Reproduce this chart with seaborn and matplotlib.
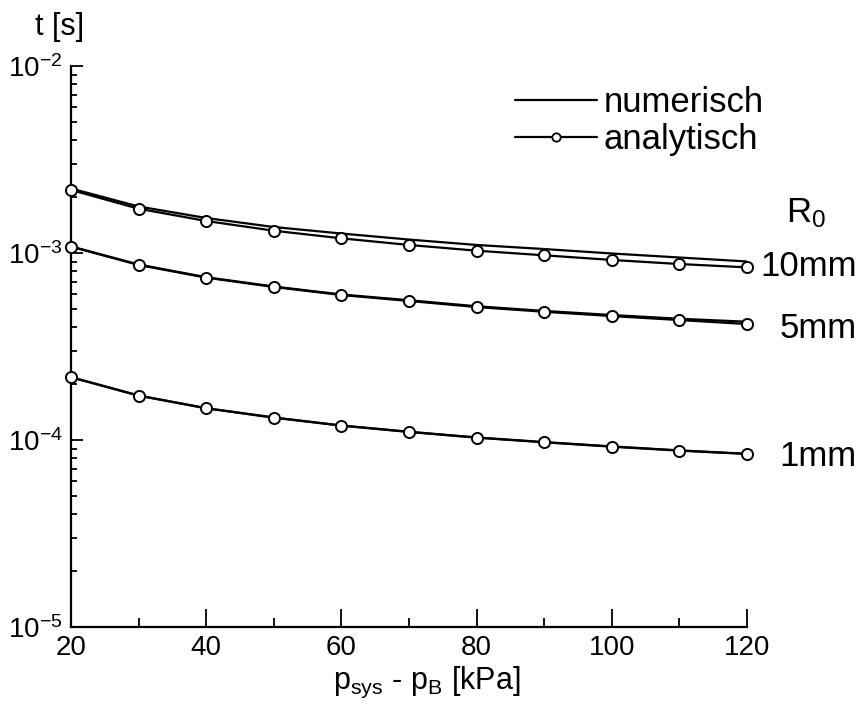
import numpy as np
import pandas as pd
import matplotlib
matplotlib.use("Agg")
import matplotlib.pyplot as plt
import matplotlib.ticker as mticker
from matplotlib.lines import Line2D
import seaborn as sns

# ---- data ----
dp_kpa = [20, 30, 40, 50, 60, 70, 80, 90, 100, 110, 120]

num_10mm = [2.213e-3, 1.773e-3, 1.539e-3, 1.377e-3, 1.271e-3, 1.180e-3, 1.104e-3, 1.050e-3, 0.994e-3, 0.946e-3, 0.901e-3]
ana_10mm = [2.173e-3, 1.725e-3, 1.483e-3, 1.316e-3, 1.198e-3, 1.104e-3, 1.029e-3, 0.972e-3, 0.918e-3, 0.873e-3, 0.838e-3]

num_5mm = [1.085e-3, 0.868e-3, 0.742e-3, 0.662e-3, 0.600e-3, 0.559e-3, 0.519e-3, 0.490e-3, 0.466e-3, 0.445e-3, 0.429e-3]
ana_5mm = [1.081e-3, 0.863e-3, 0.738e-3, 0.658e-3, 0.596e-3, 0.554e-3, 0.514e-3, 0.485e-3, 0.460e-3, 0.438e-3, 0.417e-3]

num_1mm = [0.2170e-3, 0.1730e-3, 0.1480e-3, 0.1320e-3, 0.1196e-3, 0.1107e-3, 0.1032e-3, 0.0975e-3, 0.0924e-3, 0.0880e-3, 0.0844e-3]
ana_1mm = [0.2164e-3, 0.1726e-3, 0.1477e-3, 0.1316e-3, 0.1193e-3, 0.1104e-3, 0.1029e-3, 0.0972e-3, 0.0921e-3, 0.0877e-3, 0.0842e-3]

radius_labels = ["10mm", "5mm", "1mm"]
legend_labels = ["numerisch", "analytisch"]
x_ticks = [20, 40, 60, 80, 100, 120]

# ---- style ----
sns.set_theme(style="ticks")
plt.rcParams["font.family"] = ["Liberation Sans", "DejaVu Sans"]
plt.rcParams["mathtext.fontset"] = "custom"
plt.rcParams["mathtext.rm"] = "Liberation Sans"
plt.rcParams["mathtext.it"] = "Liberation Sans"
plt.rcParams["mathtext.default"] = "regular"
plt.rcParams["axes.unicode_minus"] = False
plt.rcParams["text.color"] = "black"
plt.rcParams["xtick.color"] = "black"
plt.rcParams["ytick.color"] = "black"
plt.rcParams["axes.edgecolor"] = "black"

W, H = 861, 705
fig = plt.figure(figsize=(W / 100, H / 100), dpi=100)
ax = fig.add_axes([71 / W, 1 - 627 / H, (747 - 71) / W, (627 - 66) / H])

series = [
    (num_10mm, ana_10mm),
    (num_5mm, ana_5mm),
    (num_1mm, ana_1mm),
]

for num, ana in series:
    sns.lineplot(x=dp_kpa, y=num, ax=ax, color="black", linewidth=1.6,
                 estimator=None, zorder=2)
    sns.lineplot(x=dp_kpa, y=ana, ax=ax, color="black", linewidth=1.6,
                 marker="o", markersize=8, markerfacecolor="white",
                 markeredgecolor="black", markeredgewidth=1.4,
                 estimator=None, zorder=3, clip_on=False)

ax.set_yscale("log")
ax.set_xlim(20, 120)
ax.set_ylim(1e-5, 1e-2)
ax.set_xticks(x_ticks)
ax.xaxis.set_minor_locator(mticker.MultipleLocator(10))
ax.yaxis.set_major_locator(mticker.LogLocator(base=10, numticks=10))
ax.yaxis.set_minor_locator(mticker.LogLocator(base=10, subs=np.arange(2, 10), numticks=20))
ax.yaxis.set_minor_formatter(mticker.NullFormatter())

for s in ["top", "right"]:
    ax.spines[s].set_visible(False)
for s in ["left", "bottom"]:
    ax.spines[s].set_linewidth(1.6)
    ax.spines[s].set_color("black")

ax.tick_params(axis="x", which="major", direction="in", length=13, width=1.3,
               labelsize=20, pad=6, colors="black")
ax.tick_params(axis="x", which="minor", direction="in", length=6.5, width=1.3,
               colors="black")
ax.tick_params(axis="y", which="major", direction="in", length=8.6, width=1.3,
               labelsize=20, pad=6, colors="black")
ax.tick_params(axis="y", which="minor", direction="in", length=4.3, width=1.3,
               colors="black")
ax.set_xlabel("")
ax.set_ylabel("")

# axis titles
fig.text(60 / W, 1 - 27 / H, "t [s]", fontsize=22, ha="center", va="center",
         color="black")
fig.text(427 / W, 1 - 682 / H, r"p$_{sys}$ - p$_B$ [kPa]", fontsize=22,
         ha="center", va="center", color="black")

# radius labels
fig.text(786 / W, 1 - 213 / H, r"R$_0$", fontsize=25, ha="left", va="center",
         color="black")
label_y = [266, 328, 457]
for lab, yy in zip(radius_labels, label_y):
    fig.text(857 / W, 1 - yy / H, lab, fontsize=25, ha="right", va="center",
             color="black")

# legend
handles = [
    Line2D([], [], color="black", linewidth=1.6),
    Line2D([], [], color="black", linewidth=1.6, marker="o", markersize=6,
           markerfacecolor="white", markeredgecolor="black", markeredgewidth=1.3),
]
leg = ax.legend(handles, legend_labels, loc="upper left",
                bbox_to_anchor=(515 / W, 1 - 86 / H), bbox_transform=fig.transFigure,
                frameon=False, fontsize=25, handlelength=2.35, handletextpad=0.2,
                labelspacing=0.12, borderpad=0, borderaxespad=0)
for t in leg.get_texts():
    t.set_color("black")

fig.savefig("out.png", dpi=100)
